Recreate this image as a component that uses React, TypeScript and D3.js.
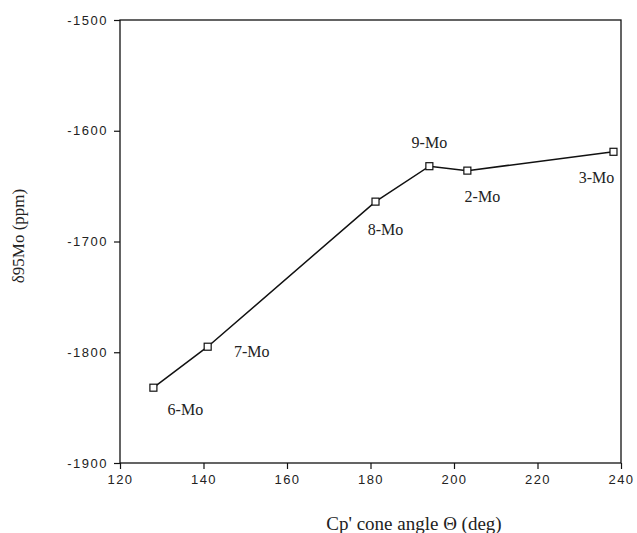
import React, { useEffect, useRef } from 'react';
import * as d3 from 'd3';

// cone angle (deg) vs δ95Mo shift (ppm)
const labels = ['6-Mo', '7-Mo', '8-Mo', '9-Mo', '2-Mo', '3-Mo'];
const coneAngle = [128.0, 141.0, 181.2, 194.1, 203.2, 238.2];
const shift = [-1832, -1795, -1664, -1632, -1636, -1619];
const xTicks = [120, 140, 160, 180, 200, 220, 240];
const yTicks = [-1500, -1600, -1700, -1800, -1900];

// label offsets in px relative to each point
const labelDx = [32, 44, 10, 0, 15, -17];
const labelDy = [22, 5, 28, -24, 26, 26];

const App = () => {
  const svgRef = useRef<SVGSVGElement>(null);

  useEffect(() => {
    const svg = d3.select(svgRef.current);
    svg.selectAll('*').remove();

    const width = 637;
    const height = 533;
    const margin = { top: 20, right: 16, bottom: 70, left: 120 };

    const x = d3.scaleLinear().domain([120, 240]).range([margin.left, width - margin.right]);
    const y = d3.scaleLinear().domain([-1900, -1500]).range([height - margin.bottom, margin.top]);

    svg.append('rect').attr('width', width).attr('height', height).attr('fill', 'white');

    // frame
    svg.append('rect')
      .attr('x', x(120)).attr('y', y(-1500))
      .attr('width', x(240) - x(120)).attr('height', y(-1900) - y(-1500))
      .attr('fill', 'none').attr('stroke', '#111').attr('stroke-width', 1.3);

    // x axis
    const xAxis = svg.append('g').attr('transform', `translate(0,${y(-1900)})`);
    xAxis.call(d3.axisBottom(x).tickValues(d3.range(130, 240, 20)).tickSize(4).tickFormat(() => ''));
    xAxis.call(d3.axisBottom(x).tickValues(xTicks).tickSize(6).tickPadding(6).tickFormat(d => String(d)));
    xAxis.selectAll('.domain').remove();
    xAxis.selectAll('text')
      .attr('font-family', '"Liberation Sans", Arial, sans-serif')
      .attr('font-size', 13).attr('letter-spacing', 1.5).attr('fill', '#222');

    // y axis
    const yAxis = svg.append('g').attr('transform', `translate(${x(120)},0)`);
    yAxis.call(d3.axisLeft(y).tickValues(d3.range(-1850, -1500, 100)).tickSize(4).tickFormat(() => ''));
    yAxis.call(d3.axisLeft(y).tickValues(yTicks).tickSize(6).tickPadding(6).tickFormat(d => '-' + Math.abs(+d)));
    yAxis.selectAll('.domain').remove();
    yAxis.selectAll('text')
      .attr('font-family', '"Liberation Sans", Arial, sans-serif')
      .attr('font-size', 13).attr('letter-spacing', 1.5).attr('fill', '#222');

    svg.selectAll('.tick line').attr('stroke', '#111').attr('stroke-width', 1.2);

    const pts = coneAngle.map((c, i) => ({ c, s: shift[i], label: labels[i], dx: labelDx[i], dy: labelDy[i] }));

    const line = d3.line<any>().x(d => x(d.c)).y(d => y(d.s));
    svg.append('path')
      .datum(pts)
      .attr('d', line)
      .attr('fill', 'none')
      .attr('stroke', '#111')
      .attr('stroke-width', 1.5);

    svg.selectAll('.pt')
      .data(pts)
      .enter()
      .append('rect')
      .attr('class', 'pt')
      .attr('x', d => x(d.c) - 3.5)
      .attr('y', d => y(d.s) - 3.5)
      .attr('width', 7)
      .attr('height', 7)
      .attr('fill', 'white')
      .attr('stroke', '#111')
      .attr('stroke-width', 1.2);

    svg.selectAll('.lbl')
      .data(pts)
      .enter()
      .append('text')
      .attr('class', 'lbl')
      .attr('x', d => x(d.c) + d.dx)
      .attr('y', d => y(d.s) + d.dy)
      .attr('dy', '0.35em')
      .attr('text-anchor', 'middle')
      .attr('font-family', '"Liberation Serif", "Times New Roman", serif')
      .attr('font-size', 16)
      .attr('fill', '#222')
      .text(d => d.label);

    // axis titles
    svg.append('text')
      .attr('x', 414)
      .attr('y', 523)
      .attr('dy', '0.35em')
      .attr('text-anchor', 'middle')
      .attr('font-family', '"Liberation Serif", "Times New Roman", serif')
      .attr('font-size', 19)
      .attr('fill', '#222')
      .text("Cp' cone angle Θ (deg)");

    svg.append('text')
      .attr('transform', `translate(18,236) rotate(-90)`)
      .attr('dy', '0.35em')
      .attr('text-anchor', 'middle')
      .attr('font-family', '"Liberation Serif", "Times New Roman", serif')
      .attr('font-size', 17)
      .attr('fill', '#222')
      .text('δ95Mo (ppm)');
  }, []);

  return (
    <div style={{ position: 'absolute', left: 0, top: 0 }}>
      <svg ref={svgRef} width={637} height={533} style={{ display: 'block' }} />
    </div>
  );
};

export default App;
